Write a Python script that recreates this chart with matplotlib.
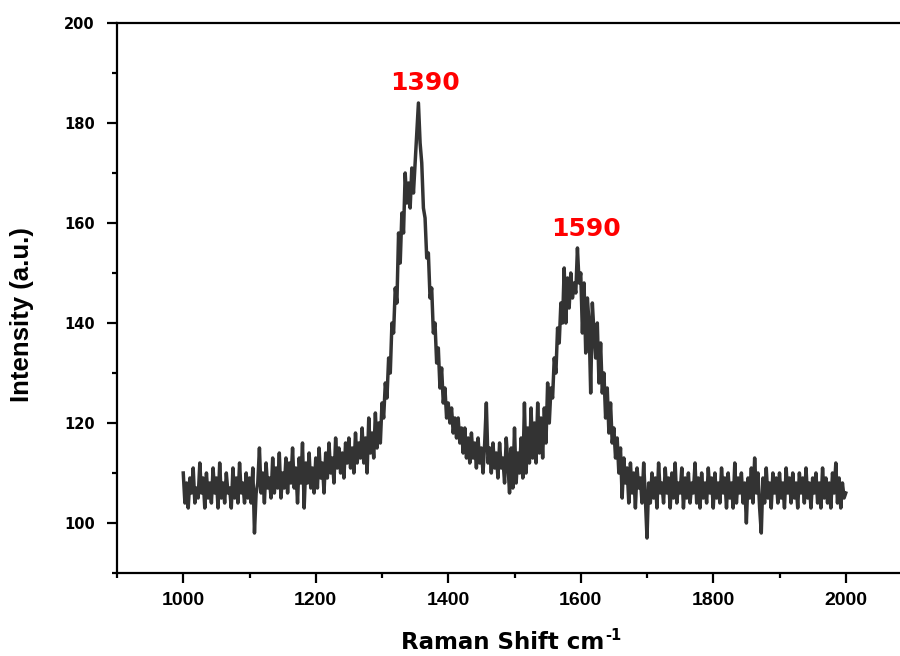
"""
Raman spectrum: intensity vs Raman shift, with the two band positions marked
"""

import matplotlib.pyplot as plt
from matplotlib.ticker import MultipleLocator
import numpy as np

# Raman shift axis, one reading every 2.5 cm^-1 from 1000 to 2000
shift_start = 1000
shift_step = 2.5

# intensity, in blocks of 100 cm^-1 (40 readings each)
intensity_1000 = [110, 104, 108, 103, 109, 106, 111, 104, 107, 105,
                  112, 106, 109, 103, 110, 105, 108, 104, 111, 106,
                  109, 103, 112, 105, 108, 104, 110, 106, 107, 103,
                  111, 105, 109, 104, 112, 106, 108, 104, 110, 105]
intensity_1100 = [109, 104, 111, 98, 106, 108, 115, 106, 110, 104,
                  112, 107, 109, 105, 113, 106, 111, 107, 114, 105,
                  110, 107, 113, 106, 112, 108, 115, 107, 111, 104,
                  113, 108, 116, 103, 112, 108, 114, 107, 111, 106]
intensity_1200 = [113, 107, 115, 109, 112, 106, 114, 109, 116, 110,
                  113, 108, 117, 111, 115, 110, 114, 109, 116, 112,
                  117, 111, 115, 110, 118, 112, 116, 113, 119, 112,
                  117, 110, 121, 114, 118, 113, 122, 115, 120, 116]
intensity_1300 = [124, 121, 128, 125, 133, 130, 140, 138, 147, 144,
                  158, 152, 162, 158, 170, 164, 168, 163, 171, 166,
                  172, 178, 184, 176, 172, 163, 161, 153, 154, 145,
                  147, 138, 140, 132, 135, 127, 131, 124, 127, 121]
intensity_1400 = [124, 120, 123, 118, 121, 117, 121, 116, 119, 114,
                  119, 113, 117, 112, 118, 113, 116, 111, 117, 112,
                  115, 110, 116, 124, 112, 115, 110, 116, 111, 114,
                  109, 116, 111, 113, 108, 117, 112, 106, 115, 107]
intensity_1500 = [119, 108, 114, 110, 117, 109, 124, 110, 119, 112,
                  123, 113, 120, 112, 124, 114, 121, 113, 123, 116,
                  128, 120, 127, 125, 133, 130, 139, 136, 144, 140,
                  151, 140, 149, 143, 150, 145, 148, 146, 155, 148]
intensity_1600 = [150, 138, 148, 134, 145, 140, 126, 144, 138, 133,
                  140, 128, 136, 126, 130, 121, 127, 118, 124, 116,
                  119, 113, 117, 110, 115, 105, 113, 108, 111, 104,
                  112, 106, 110, 103, 111, 107, 109, 104, 112, 105]
intensity_1700 = [97, 108, 104, 110, 105, 109, 103, 112, 106, 108,
                  104, 111, 106, 109, 103, 110, 105, 112, 104, 108,
                  106, 111, 103, 109, 105, 110, 104, 108, 106, 112,
                  104, 109, 103, 110, 105, 108, 104, 111, 106, 109]
intensity_1800 = [103, 110, 105, 108, 104, 111, 106, 109, 103, 110,
                  105, 108, 103, 112, 104, 109, 106, 110, 104, 108,
                  100, 109, 105, 111, 104, 113, 106, 110, 103, 98,
                  109, 104, 111, 105, 108, 103, 110, 106, 109, 104]
intensity_1900 = [110, 105, 108, 103, 111, 106, 109, 104, 110, 105,
                  108, 103, 110, 106, 109, 104, 111, 105, 108, 103,
                  109, 106, 110, 104, 108, 103, 111, 105, 109, 104,
                  108, 103, 110, 106, 112, 104, 109, 103, 108, 105, 106]

peak_labels = ["1390", "1590"]
peak_label_x = [1365, 1608]
peak_label_y = [188, 158.8]


def print_one(out_file):
    intensity = np.array(intensity_1000 + intensity_1100 + intensity_1200
                         + intensity_1300 + intensity_1400 + intensity_1500
                         + intensity_1600 + intensity_1700 + intensity_1800
                         + intensity_1900, dtype=float)
    shift = shift_start + shift_step * np.arange(len(intensity))

    plt.rcParams["font.family"] = ["Liberation Sans", "DejaVu Sans"]
    plt.rcParams["font.weight"] = "bold"

    fig = plt.figure(figsize=(9, 6.56), dpi=100)
    ax = fig.add_axes([117 / 900, 83 / 656, 795 / 900, 550 / 656])

    ax.plot(shift, intensity, color="#333333", lw=2.5)

    for txt, x, y in zip(peak_labels, peak_label_x, peak_label_y):
        ax.text(x, y, txt, color="#ff0000", fontsize=18, fontweight="bold",
                family="DejaVu Sans", ha="center", va="center")

    ax.set_xlim(900, 2100)
    ax.set_ylim(90, 200)
    ax.xaxis.set_major_locator(MultipleLocator(200))
    ax.xaxis.set_minor_locator(MultipleLocator(100))
    ax.yaxis.set_major_locator(MultipleLocator(20))
    ax.yaxis.set_minor_locator(MultipleLocator(10))

    for s in ax.spines.values():
        s.set_linewidth(1.6)
    ax.tick_params(which="major", direction="out", length=7, width=1.6)
    ax.tick_params(which="minor", direction="out", length=3.5, width=1.6)
    ax.tick_params(axis="x", which="major", labelsize=14, pad=7)
    ax.tick_params(axis="y", which="major", labelsize=10.5, pad=9)
    for lab in ax.get_yticklabels():
        lab.set_fontfamily("DejaVu Sans")
        lab.set_fontweight("bold")
    for lab in ax.get_xticklabels():
        lab.set_fontweight("bold")

    xl = ax.set_xlabel("Raman Shift cm", fontsize=16.5, fontweight="bold",
                       family="DejaVu Sans")
    ax.xaxis.set_label_coords(0.485, -0.106)
    ax.set_ylabel("Intensity (a.u.)", fontsize=18.5, fontweight="bold")
    ax.yaxis.set_label_coords(-0.104, 0.469)

    # superscript "-1" after the x label
    fig.canvas.draw()
    bb = xl.get_window_extent()
    fig.text(bb.x1 + 1, bb.y1 + 3, "-1", fontsize=10.5, fontweight="bold",
             family="DejaVu Sans", ha="left", va="top",
             transform=None)

    fig.savefig(out_file, dpi=100)


if __name__ == "__main__":
    print_one("out.png")
